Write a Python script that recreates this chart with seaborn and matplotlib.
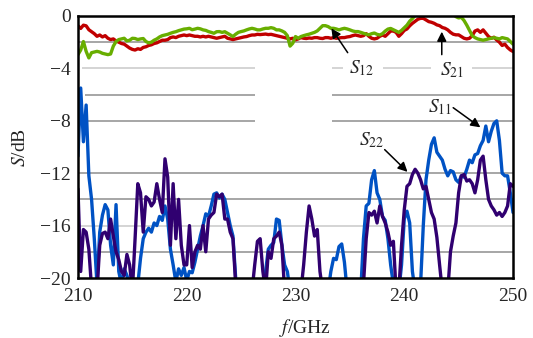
import matplotlib
matplotlib.use("Agg")
import matplotlib.pyplot as plt
import numpy as np
import pandas as pd
import seaborn as sns

# frequency samples, every 0.25 GHz from 210 to 250
freq = np.arange(210.0, 250.001, 0.25)

# values, one row per GHz
s21 = [
    -0.75, -0.95, -0.70, -0.75,
    -1.05, -1.20, -1.35, -1.55,
    -1.45, -1.60, -1.50, -1.70,
    -1.80, -1.75, -1.90, -2.00,
    -2.10, -2.15, -2.30, -2.45,
    -2.55, -2.60, -2.50, -2.55,
    -2.40, -2.35, -2.25, -2.20,
    -2.10, -2.05, -1.95, -1.85,
    -1.85, -1.80, -1.65, -1.60,
    -1.65, -1.55, -1.50, -1.45,
    -1.50, -1.45, -1.50, -1.55,
    -1.55, -1.60, -1.55, -1.60,
    -1.55, -1.60, -1.65, -1.70,
    -1.65, -1.60, -1.55, -1.70,
    -1.75, -1.80, -1.75, -1.70,
    -1.65, -1.60, -1.57, -1.50,
    -1.45, -1.45, -1.40, -1.42,
    -1.40, -1.38, -1.42, -1.40,
    -1.45, -1.50, -1.55, -1.60,
    -1.65, -1.70, -1.75, -1.70,
    -1.82, -1.75, -1.65, -1.70,
    -1.72, -1.68, -1.70, -1.65,
    -1.65, -1.70, -1.72, -1.65,
    -1.65, -1.70, -1.65, -1.70,
    -1.68, -1.65, -1.65, -1.60,
    -1.57, -1.50, -1.45, -1.50,
    -1.55, -1.50, -1.35, -1.55,
    -1.70, -1.75, -1.70, -1.55,
    -1.45, -1.55, -1.35, -1.15,
    -1.15, -1.25, -1.55, -1.35,
    -1.10, -0.99, -0.75, -0.56,
    -0.40, -0.25, -0.18, -0.18,
    -0.30, -0.43, -0.48, -0.56,
    -0.68, -0.74, -0.88, -0.94,
    -1.06, -1.25, -1.39, -1.44,
    -1.44, -1.57, -1.70, -1.75,
    -1.70, -1.50, -1.15, -1.06,
    -1.25, -1.06, -1.32, -1.57,
    -1.70, -1.62, -1.83, -2.00,
    -2.25, -2.15, -2.41, -2.59,
    -2.71,
]

s12 = [
    -2.95, -2.60, -1.95, -2.70,
    -3.20, -2.80, -2.75, -2.70,
    -2.75, -2.85, -2.90, -2.95,
    -2.90, -2.30, -1.95, -1.80,
    -1.75, -1.70, -1.90, -1.85,
    -1.70, -1.72, -1.80, -1.75,
    -1.72, -1.95, -2.05, -2.00,
    -1.85, -1.75, -1.60, -1.50,
    -1.45, -1.40, -1.32, -1.25,
    -1.20, -1.12, -1.06, -1.00,
    -0.98, -0.94, -1.05, -1.00,
    -0.94, -0.98, -1.06, -1.10,
    -1.19, -1.25, -1.32, -1.20,
    -1.19, -1.25, -1.20, -1.32,
    -1.44, -1.57, -1.39, -1.25,
    -1.19, -1.14, -1.06, -0.99,
    -0.94, -0.99, -1.06, -1.06,
    -0.99, -0.94, -0.94, -0.89,
    -0.94, -1.06, -1.06, -1.14,
    -1.25, -1.50, -2.30, -2.08,
    -1.57, -1.70, -1.57, -1.50,
    -1.44, -1.39, -1.32, -1.25,
    -1.14, -0.94, -0.74, -0.74,
    -0.81, -0.94, -0.94, -0.99,
    -1.06, -0.99, -0.94, -0.99,
    -1.06, -1.14, -1.19, -1.19,
    -1.25, -1.32, -1.39, -1.44,
    -1.35, -1.30, -1.40, -1.45,
    -1.35, -1.15, -1.00, -0.95,
    -1.05, -1.15, -1.25, -1.10,
    -0.90, -0.70, -0.40, -0.20,
    0.05, 0.30, 0.45, 0.50,
    0.50, 0.45, 0.40, 0.35,
    0.40, 0.45, 0.40, 0.35,
    0.30, 0.25, 0.15, -0.05,
    -0.15, -0.10, -0.35, -0.70,
    -1.10, -1.50, -1.65, -1.75,
    -1.80, -1.85, -1.80, -1.75,
    -1.70, -1.65, -1.70, -1.75,
    -1.65, -1.70, -1.75, -1.95,
    -2.15,
]

s11 = [
    -10.7, -5.5, -9.6, -6.8,
    -12.2, -14.0, -17.0, -20.5,
    -16.5, -15.2, -14.4, -14.8,
    -17.5, -19.0, -14.4, -19.5,
    -20.5, -19.3, -19.8, -20.5,
    -20.5, -21.0, -20.5, -18.5,
    -17.0, -16.5, -16.2, -16.5,
    -15.8, -16.0, -15.3, -15.6,
    -14.5, -15.5, -17.8, -19.0,
    -20.3, -19.3, -19.8, -19.2,
    -20.2, -19.5, -19.6, -18.8,
    -17.8, -16.8, -16.0, -15.1,
    -15.3, -14.5, -13.6, -13.5,
    -13.9, -13.6, -14.0, -15.0,
    -16.0, -16.8, -20.0, -21.0,
    -21.0, -21.0, -21.0, -21.0,
    -21.0, -21.0, -21.0, -21.0,
    -21.0, -19.5, -17.8, -17.5,
    -17.3, -15.5, -15.6, -17.5,
    -19.0, -19.5, -21.0, -21.0,
    -21.0, -21.0, -21.0, -21.0,
    -21.0, -21.0, -21.0, -21.0,
    -21.0, -21.0, -21.0, -21.0,
    -21.0, -19.5, -18.5, -18.6,
    -17.6, -17.4, -18.8, -21.0,
    -21.0, -21.0, -21.0, -21.0,
    -21.0, -17.0, -14.5, -14.3,
    -12.5, -11.8, -13.5, -14.0,
    -15.3, -15.6, -17.0, -19.0,
    -20.5, -21.0, -21.0, -19.0,
    -15.5, -14.9, -15.8, -19.5,
    -21.0, -21.0, -20.5, -16.0,
    -12.5, -11.0, -9.8, -9.3,
    -10.4, -10.7, -11.0, -11.7,
    -12.2, -11.8, -11.9, -12.5,
    -12.7, -12.2, -12.3, -11.7,
    -11.0, -11.2, -10.6, -10.5,
    -9.9, -9.5, -8.4, -9.6,
    -8.8, -8.2, -8.0, -9.5,
    -12.0, -12.2, -12.2, -13.5,
    -15.0,
]

s22 = [
    -13.2, -19.5, -16.3, -16.5,
    -17.8, -20.8, -21.0, -21.0,
    -17.5, -16.6, -16.5, -17.0,
    -15.5, -16.8, -18.0, -18.6,
    -19.5, -19.8, -18.2, -19.0,
    -21.0, -17.0, -12.8, -13.5,
    -16.5, -13.8, -14.0, -14.5,
    -14.2, -12.8, -14.0, -15.0,
    -10.9, -12.3, -17.5, -12.8,
    -17.0, -14.0, -17.5, -19.0,
    -19.0, -16.0, -19.2, -18.0,
    -17.5, -17.8, -16.0, -18.0,
    -15.5, -15.2, -15.0, -13.6,
    -13.8, -13.6, -15.5, -15.5,
    -16.5, -17.0, -20.5, -21.0,
    -21.0, -21.0, -21.0, -21.0,
    -21.0, -19.0, -17.2, -17.0,
    -19.5, -21.0, -18.0, -18.5,
    -17.0, -16.8, -16.5, -17.5,
    -21.0, -21.0, -21.0, -21.0,
    -21.0, -21.0, -21.0, -19.0,
    -16.5, -14.5, -15.5, -16.8,
    -16.3, -19.5, -21.0, -21.0,
    -21.0, -21.0, -21.0, -21.0,
    -21.0, -21.0, -21.0, -21.0,
    -21.0, -21.0, -21.0, -21.0,
    -21.0, -20.5, -17.0, -15.0,
    -15.2, -14.9, -15.8, -14.5,
    -15.3, -15.8, -16.5, -17.5,
    -17.2, -21.0, -21.0, -17.5,
    -14.8, -13.0, -12.8, -12.1,
    -11.7, -12.0, -12.5, -13.2,
    -13.0, -14.0, -15.0, -15.5,
    -16.9, -19.0, -21.0, -21.0,
    -21.0, -18.0, -16.8, -15.8,
    -13.5, -12.2, -12.1, -12.6,
    -12.5, -12.8, -13.5, -12.5,
    -11.0, -10.7, -12.5, -14.0,
    -14.5, -14.8, -15.2, -15.0,
    -15.3, -15.0, -14.5, -12.8,
    -13.0,
]

curve_names = ["S11", "S22", "S21", "S12"]
curve_colors = {"S11": "#0052C4", "S22": "#300070", "S21": "#C00000", "S12": "#68AE00"}

yticks = [0, -4, -8, -12, -16, -20]
xticks = [210, 220, 230, 240, 250]

df = pd.concat([
    pd.DataFrame({"f": freq, "S": vals, "curve": name})
    for name, vals in zip(curve_names, [s11, s22, s21, s12])
])

sns.set_theme(style="white")
plt.rcParams["font.family"] = ["Liberation Serif", "DejaVu Serif"]
plt.rcParams["mathtext.fontset"] = "stix"
plt.rcParams["axes.unicode_minus"] = True

fig = plt.figure(figsize=(5.33, 3.38), dpi=100)
ax = fig.add_axes([0.1463, 0.1775, 0.8162, 0.7752])

# grid lines, some broken where the labels sit
dark, light = "#a6a6a6", "#d4d4d4"
grid = [
    (-2, [(210, 250)], dark),
    (-4, [(210.4, 226.3), (233.4, 234.4), (238.0, 242.5), (246.2, 250)], light),
    (-6, [(210.6, 226.3), (233.4, 250)], dark),
    (-8, [(210.6, 226.3), (233.4, 250)], dark),
    (-12, [(210, 250)], dark),
    (-14, [(210, 250)], dark),
    (-16, [(210, 250)], light),
    (-18, [(210, 250)], dark),
]
for y, segs, col in grid:
    for x0, x1 in segs:
        ax.hlines(y, x0, x1, colors=col, lw=1.4, zorder=0)

sns.lineplot(data=df, x="f", y="S", hue="curve", hue_order=curve_names,
             palette=curve_colors, estimator=None, sort=False, lw=2.4,
             legend=False, ax=ax, zorder=2)

ax.set_xlim(210, 250)
ax.set_ylim(-20, 0)
ax.set_xticks(xticks)
ax.set_yticks(yticks)
ax.tick_params(axis="both", length=0, labelsize=14)
ax.tick_params(axis="x", pad=7)
ax.tick_params(axis="y", pad=5)
for sp in ax.spines.values():
    sp.set_color("black")
    sp.set_linewidth(1.8)
    sp.set_zorder(5)

ax.set_xlabel("$f$/GHz", fontsize=14)
ax.set_ylabel("$S$/dB", fontsize=14)
ax.xaxis.set_label_coords(0.522, -0.15)
ax.yaxis.set_label_coords(-0.112, 0.5)

# curve labels with arrows
arrow = dict(arrowstyle="-|>", color="black", lw=1.1, mutation_scale=14,
             shrinkA=0, shrinkB=0)
labels = [
    ("$S_{12}$", (236.1, -4.0), (234.8, -2.8), (233.3, -0.95)),
    ("$S_{21}$", (244.4, -4.1), (243.45, -2.95), (243.45, -1.2)),
    ("$S_{11}$", (243.3, -6.95), (244.5, -7.0), (247.0, -8.5)),
    ("$S_{22}$", (237.0, -9.5), (238.2, -10.2), (240.3, -11.9)),
]
for txt, pos, tail, tip in labels:
    ax.text(pos[0], pos[1], txt, fontsize=14, ha="center", va="center", zorder=4)
    ax.annotate("", xy=tip, xytext=tail, arrowprops=arrow, zorder=4)

fig.savefig("out.png", dpi=100)
plt.close(fig)
